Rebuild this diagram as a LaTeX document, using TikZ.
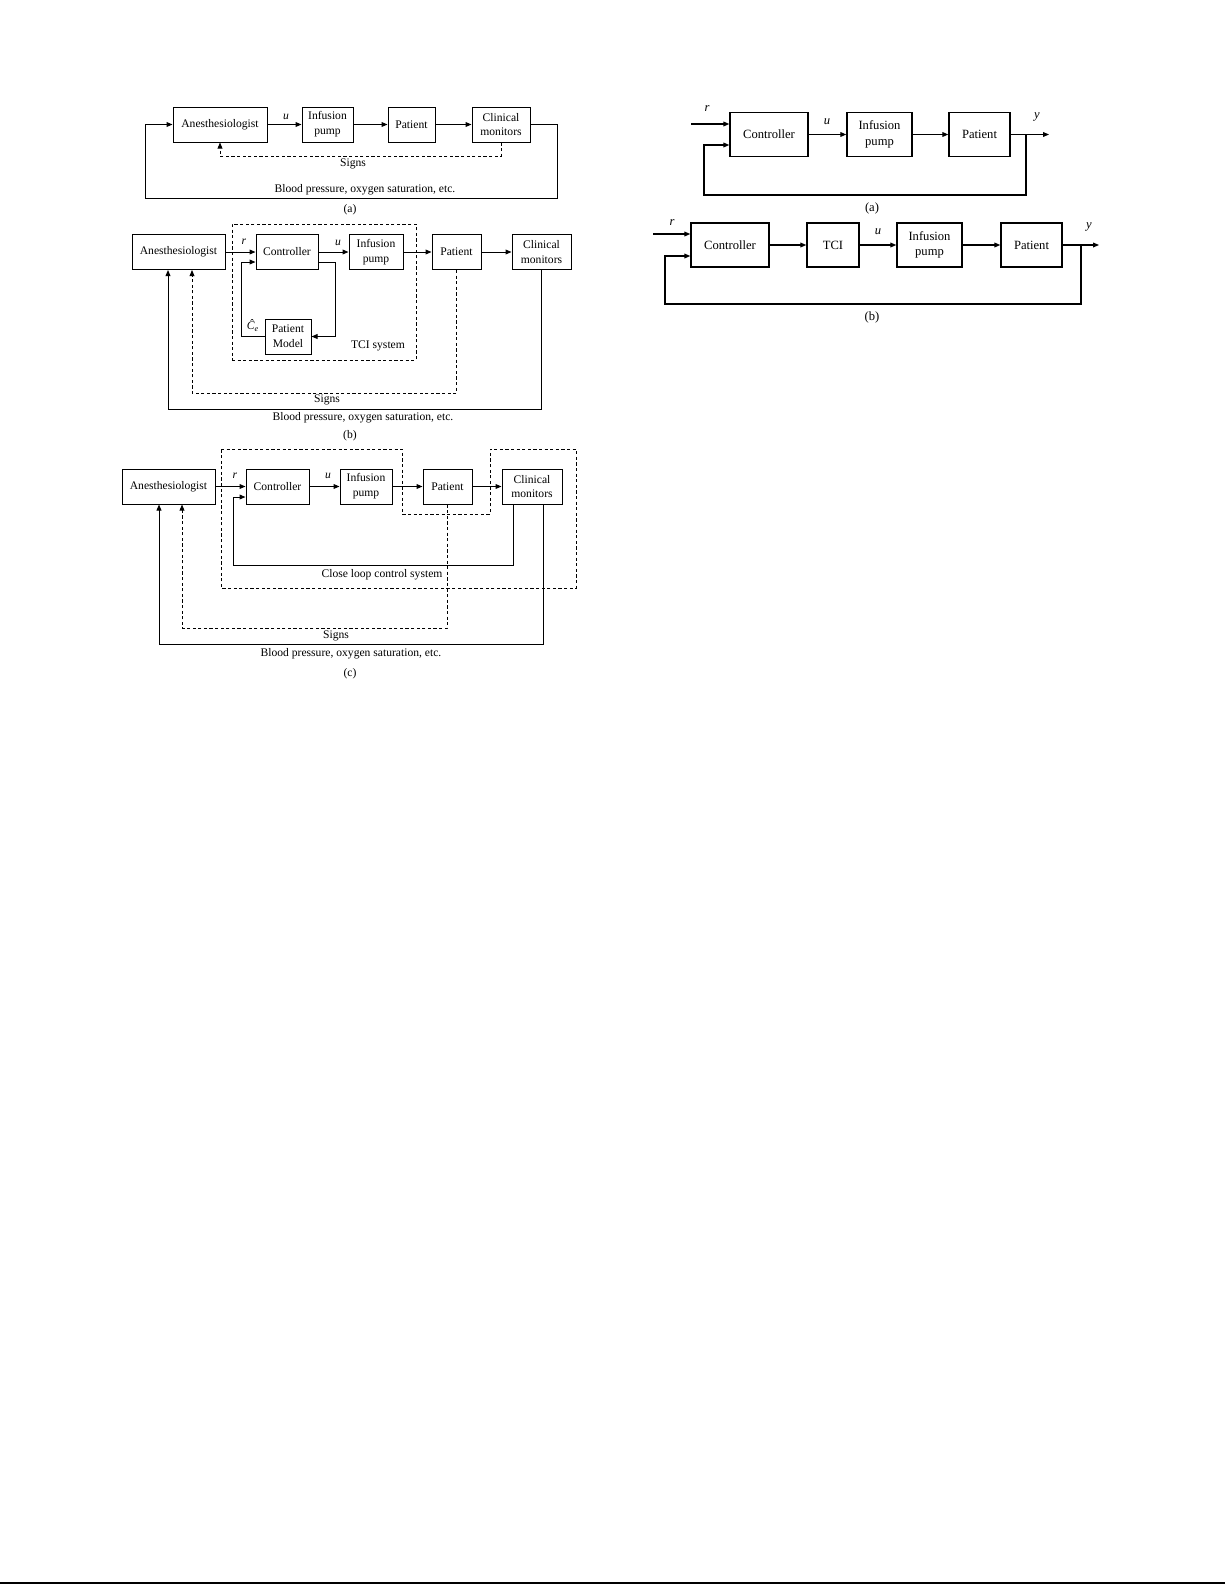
\documentclass[tikz,border=0pt]{standalone}
\usepackage{fontspec}
\setmainfont{Liberation Serif}
\usetikzlibrary{arrows.meta}
\newcommand{\vr}[1]{\textit{#1}}
\begin{document}
\begin{tikzpicture}[x=0.5pt,y=-0.5pt,
  lfont/.style={font=\fontsize{5.8}{7.4}\selectfont},
  rfont/.style={font=\fontsize{6.3}{7.6}\selectfont},
  lbox/.style={draw, line width=0.5pt, lfont, align=center, inner sep=0pt, minimum height=17.5pt},
  rbox/.style={draw, line width=0.7pt, rfont, align=center, inner sep=0pt, minimum height=21.75pt},
  lline/.style={line width=0.5pt},
  rline/.style={line width=0.55pt},
  arr/.style={-{Triangle[length=3pt,width=2.4pt]}},
  dsh/.style={dash pattern=on 1.6pt off 1.2pt, line width=0.45pt},
  lbl/.style={lfont, inner sep=0pt},
  rlbl/.style={rfont, inner sep=0pt},
]
\useasboundingbox (0,0) rectangle (1225,1585);
\fill[white] (0,0) rectangle (1225,1585);

% ---------------- Left (a) ----------------
\node[lbox, minimum width=47pt] (A1) at (220,124.5) {Anesthesiologist};
\node[lbox, minimum width=25.5pt] (I1) at (327.5,124.5) {Infusion\\pump};
\node[lbox, minimum width=23.5pt] (P1) at (411.5,124.5) {Patient};
\node[lbox, minimum width=29pt] (M1) at (501,124.5) {Clinical\\monitors};
\draw[lline,arr] (A1) -- (I1);
\draw[lline,arr] (I1) -- (P1);
\draw[lline,arr] (P1) -- (M1);
\node[lbl] (u1) at (286,117) {\vr{u}};
\draw[dsh,arr] (M1.south) -- (501,156) -| (A1.south);
\node[lbl] (s1) at (353,164) {Signs};
\draw[lline,arr] (M1.east) -| (557,198) -| (145,124.5) -- (A1.west);
\node[lbl] (b1) at (365,190) {Blood pressure, oxygen saturation, etc.};
\node[lbl] (ca) at (350,210) {(a)};

% ---------------- Left (b) ----------------
\node[draw, dsh, minimum width=92pt, minimum height=68pt, inner sep=0pt] (T2) at (324,292) {};
\node[lbox, minimum width=46.5pt] (A2) at (178.5,252) {Anesthesiologist};
\node[lbox, minimum width=31pt] (C2) at (287,252) {Controller};
\node[lbox, minimum width=27pt] (I2) at (376,252) {Infusion\\pump};
\node[lbox, minimum width=24.5pt] (P2) at (456.5,252) {Patient};
\node[lbox, minimum width=29.5pt] (M2) at (541.5,252) {Clinical\\monitors};
\node[lbox, minimum width=23pt] (PM2) at (288,336.5) {Patient\\Model};
\draw[lline,arr] (A2) -- (C2);
\draw[lline,arr] (C2) -- (I2);
\draw[lline,arr] (I2) -- (P2);
\draw[lline,arr] (P2) -- (M2);
\node[lbl] (r2) at (244,242) {\vr{r}};
\node[lbl] (u2) at (338,243) {\vr{u}};
\draw[lline,arr] ([yshift=-5pt]C2.east) -| (335,336.5) -- (PM2.east);
\draw[lline,arr] (PM2.west) -| (241,262) -- ([yshift=-5pt]C2.west);
\node[lbl] (ce2) at (253,326) {\vr{Ĉ}\textsubscript{\vr{e}}};
\node[lbl] (tci2) at (378,346) {TCI system};
\draw[dsh,arr] (P2.south) -- (456.5,393) -| ([xshift=6.75pt]A2.south);
\draw[lline,arr] (M2.south) -- (541.5,409) -| ([xshift=-5.25pt]A2.south);
\node[lbl] (s2) at (327,400) {Signs};
\node[lbl] (b2) at (363,418) {Blood pressure, oxygen saturation, etc.};
\node[lbl] (cb) at (350,436) {(b)};

% ---------------- Left (c) ----------------
\draw[dsh] (221,449) -- (402,449) -- (402,514) -- (490,514) -- (490,449) -- (576,449) -- (576,588) -- (221,588) -- cycle;
\node[lbox, minimum width=46.5pt] (A3) at (168.5,486.5) {Anesthesiologist};
\node[lbox, minimum width=31.5pt] (C3) at (277.5,486.5) {Controller};
\node[lbox, minimum width=26pt] (I3) at (366,486.5) {Infusion\\pump};
\node[lbox, minimum width=24.5pt] (P3) at (447.5,486.5) {Patient};
\node[lbox, minimum width=30pt] (M3) at (532,486.5) {Clinical\\monitors};
\draw[lline,arr] (A3) -- (C3);
\draw[lline,arr] (C3) -- (I3);
\draw[lline,arr] (I3) -- (P3);
\draw[lline,arr] (P3) -- (M3);
\node[lbl] (r3) at (235,476) {\vr{r}};
\node[lbl] (u3) at (328,476) {\vr{u}};
\draw[lline,arr] ([xshift=-9.5pt]M3.south) -- (513,565) -| (233,497) -- ([yshift=-5.25pt]C3.west);
\node[lbl] (cl3) at (382,575) {Close loop control system};
\draw[dsh,arr] (P3.south) -- (447.5,628) -| ([xshift=6.75pt]A3.south);
\draw[lline,arr] ([xshift=5.5pt]M3.south) -- (543,644) -| ([xshift=-4.75pt]A3.south);
\node[lbl] (s3) at (336,636) {Signs};
\node[lbl] (b3) at (351,654) {Blood pressure, oxygen saturation, etc.};
\node[lbl] (cc) at (350,674) {(c)};

% ---------------- Right (a) ----------------
\node[rbox, minimum width=39pt] (RC1) at (769,134.5) {Controller};
\node[rbox, minimum width=32.5pt] (RI1) at (879.5,134.5) {Infusion\\pump};
\node[rbox, minimum width=30.5pt] (RP1) at (979.5,134.5) {Patient};
\coordinate (rin1) at (691,124);
\coordinate (br1) at (1026,134.5);
\coordinate (out1) at (1049,134.5);
\draw[rline,arr] (rin1) -- ([yshift=5.25pt]RC1.west);
\draw[rline,arr] (RC1) -- (RI1);
\draw[rline,arr] (RI1) -- (RP1);
\draw[rline,arr] (RP1) -- (out1);
\draw[rline,arr] (br1) -- (1026,195) -| (704,145) -- ([yshift=-5.25pt]RC1.west);
\node[rlbl] (rr1) at (707,109) {\vr{r}};
\node[rlbl] (ru1) at (827,122) {\vr{u}};
\node[rlbl] (ry1) at (1037,117) {\vr{y}};
\node[rlbl] (rca) at (872,208) {(a)};

% ---------------- Right (b) ----------------
\node[rbox, minimum width=39pt, minimum height=22pt] (RC2) at (730,245) {Controller};
\node[rbox, minimum width=26pt, minimum height=22pt] (RT2) at (833,245) {TCI};
\node[rbox, minimum width=32.5pt, minimum height=22pt] (RI2) at (929.5,245) {Infusion\\pump};
\node[rbox, minimum width=30.5pt, minimum height=22pt] (RP2) at (1031.5,245) {Patient};
\coordinate (rin2) at (653,234);
\coordinate (br2) at (1081,245);
\coordinate (out2) at (1099,245);
\draw[rline,arr] (rin2) -- ([yshift=5.5pt]RC2.west);
\draw[rline,arr] (RC2) -- (RT2);
\draw[rline,arr] (RT2) -- (RI2);
\draw[rline,arr] (RI2) -- (RP2);
\draw[rline,arr] (RP2) -- (out2);
\draw[rline,arr] (br2) -- (1081,304) -| (665,256) -- ([yshift=-5.5pt]RC2.west);
\node[rlbl] (rr2) at (672,223) {\vr{r}};
\node[rlbl] (ru2) at (878,232) {\vr{u}};
\node[rlbl] (ry2) at (1089,227) {\vr{y}};
\node[rlbl] (rcb) at (872,317) {(b)};

% bottom rule
\draw[line width=1pt] (0,1583) -- (1225,1583);
\end{tikzpicture}
\end{document}
